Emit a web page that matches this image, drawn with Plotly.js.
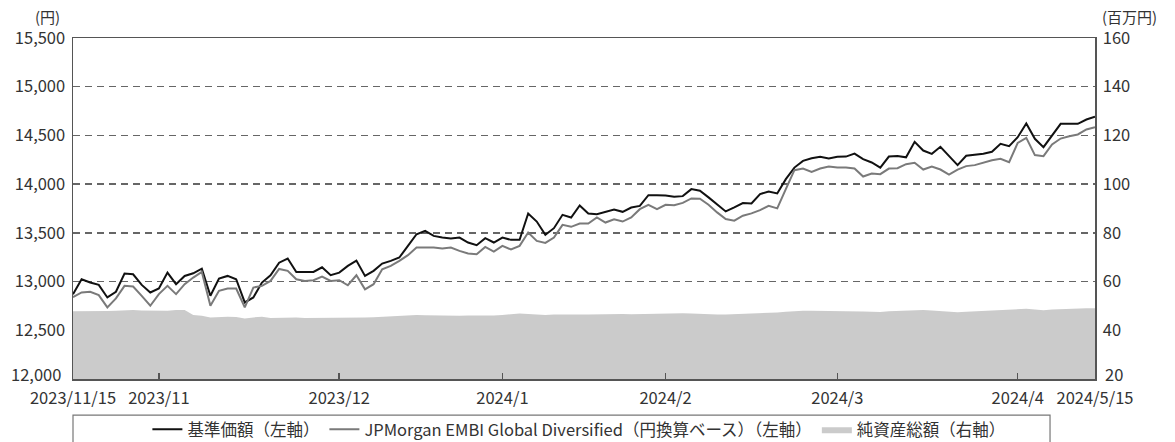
<!DOCTYPE html>
<html>
<head>
<meta charset="utf-8">
<script src="https://cdn.plot.ly/plotly-3.0.1.min.js"></script>
<style>
html,body{margin:0;padding:0;background:#fff;}
#chart{width:1175px;height:442px;}
</style>
</head>
<body>
<div id="chart"></div>
<script>
// Tick labels (positions are business-day indices of the series)
const tickIndex = [0, 10, 31, 50, 69, 89, 110, 119];
const tickLabels = ["2023/11/15", "2023/11", "2023/12", "2024/1", "2024/2", "2024/3", "2024/4", "2024/5/15"];

const seriesNames = ["基準価額（左軸）", "JPMorgan EMBI Global Diversified（円換算ベース）（左軸）", "純資産総額（右軸）"];

// 基準価額 (円)
const navValues = [
12870,13024,12990,12966,12837,12895,13082,13075,12966,12888,
12929,13092,12973,13058,13085,13133,12854,13031,13058,13024,
12786,12837,12990,13065,13194,13236,13099,13099,13099,13147,
13065,13092,13161,13216,13058,13110,13185,13212,13247,13366,
13486,13521,13469,13452,13442,13452,13401,13373,13445,13401,
13452,13428,13428,13699,13616,13479,13548,13685,13658,13781,
13699,13692,13719,13740,13716,13760,13777,13887,13887,13884,
13870,13877,13949,13932,13864,13789,13720,13761,13806,13802,
13898,13925,13905,14051,14170,14239,14266,14280,14263,14280,
14283,14314,14256,14222,14170,14283,14290,14275,14434,14345,
14311,14383,14287,14195,14291,14304,14311,14332,14414,14390,
14482,14622,14465,14380,14499,14619,14619,14619,14663,14691
];

// JPMorgan EMBI Global Diversified (円換算ベース)
const benchValues = [
12840,12888,12895,12861,12735,12827,12956,12949,12854,12752,
12871,12956,12871,12973,13041,13099,12752,12905,12929,12929,
12735,12939,12956,13007,13130,13110,13024,13007,13014,13051,
13007,13014,12962,13065,12921,12973,13127,13161,13212,13271,
13349,13349,13349,13339,13349,13315,13288,13281,13356,13308,
13366,13329,13366,13503,13418,13397,13452,13582,13562,13596,
13596,13658,13606,13640,13616,13658,13743,13788,13743,13788,
13784,13808,13853,13850,13789,13710,13642,13625,13676,13700,
13734,13778,13751,13949,14143,14160,14126,14160,14181,14171,
14171,14160,14078,14109,14102,14160,14164,14205,14219,14150,
14181,14150,14099,14150,14185,14195,14219,14246,14260,14226,
14424,14475,14298,14287,14407,14468,14492,14510,14561,14585
];

// 純資産総額 (百万円)
const assetValues = [
47.8,47.9,48.0,48.1,47.9,48.0,48.3,48.3,48.1,48.0,
47.8,48.0,48.3,48.3,46.3,46.0,45.2,45.5,45.6,45.5,
44.8,45.3,45.6,45.0,45.1,45.3,45.2,45.0,45.0,45.0,
44.9,44.9,45.0,45.2,45.2,45.4,45.6,45.9,46.1,46.3,
46.3,46.2,46.1,46.0,46.0,46.0,46.1,46.0,46.1,46.1,
46.3,46.6,46.9,46.7,46.4,46.3,46.5,46.6,46.6,46.5,
46.5,46.6,46.6,46.6,46.7,46.6,46.7,46.8,46.9,47.0,
47.0,47.0,46.9,46.7,46.6,46.5,46.5,46.6,46.7,46.8,
47.0,47.1,47.3,47.6,47.9,48.0,48.0,48.0,48.0,48.0,
47.9,47.8,47.7,47.6,47.5,47.8,48.0,48.1,48.2,48.3,
48.1,47.8,47.5,47.4,47.6,47.8,48.0,48.1,48.3,48.5,
48.7,48.8,48.5,48.2,48.5,48.7,48.8,48.9,49.0,49.0
];

const leftTicks = [12000,12500,13000,13500,14000,14500,15000,15500];
const leftTickText = ["12,000","12,500","13,000","13,500","14,000","14,500","15,000","15,500"];
const rightTicks = [20,40,60,80,100,120,140,160];

const FONT = '"Noto Sans CJK JP","Noto Sans",sans-serif';
const AX = '#555555';
const TXT = '#333333';
const TICKSIZE = 16.5;

const traces = [
  {y: navValues, type: 'scatter', mode: 'lines', name: seriesNames[0],
   line: {color: '#111111', width: 2}, yaxis: 'y'},
  {y: benchValues, type: 'scatter', mode: 'lines', name: seriesNames[1],
   line: {color: '#7a7a7a', width: 2}, yaxis: 'y'},
  {y: assetValues, type: 'scatter', mode: 'lines', name: seriesNames[2],
   fill: 'tozeroy', fillcolor: '#cbcbcb', line: {color: '#cbcbcb', width: 0}, yaxis: 'y2'}
];

// the lowest tick labels of both value axes sit slightly above the bottom axis line
const bottomLabels = [
  {text: leftTickText[0], xref: 'paper', yref: 'y', x: -0.0098, y: leftTicks[0], xanchor: 'right', yanchor: 'middle',
   yshift: 5, showarrow: false, font: {size: TICKSIZE, color: TXT}},
  {text: String(rightTicks[0]), xref: 'paper', yref: 'y2', x: 1.0078, y: rightTicks[0], xanchor: 'left', yanchor: 'middle',
   yshift: 5, showarrow: false, font: {size: TICKSIZE, color: TXT}}
];

const layout = {
  width: 1175, height: 442,
  margin: {l: 73, r: 80, t: 38, b: 63, autoexpand: false},
  paper_bgcolor: '#ffffff', plot_bgcolor: '#ffffff',
  font: {family: FONT, size: 16, color: TXT},
  showlegend: true,
  hovermode: false,
  xaxis: {
    range: [0, 119], tickvals: tickIndex, ticktext: tickLabels, automargin: false,
    showgrid: false, zeroline: false,
    showline: true, linecolor: AX, linewidth: 1.5, mirror: true,
    ticks: 'inside', ticklen: 6, tickwidth: 1.5, tickcolor: AX,
    ticklabelstandoff: 4,
    tickfont: {size: TICKSIZE, color: TXT}
  },
  yaxis: {
    range: [12000, 15500], tickvals: leftTicks.slice(1), ticktext: leftTickText.slice(1), automargin: false,
    showgrid: true, gridcolor: '#666666', gridwidth: 1.3, griddash: '7px,5px',
    zeroline: false, showline: true, linecolor: AX, linewidth: 1.5,
    ticks: '', ticklabelstandoff: 3, tickfont: {size: TICKSIZE, color: TXT}
  },
  yaxis2: {
    range: [20, 160], tickvals: rightTicks.slice(1), overlaying: 'y', side: 'right', automargin: false,
    showgrid: false, zeroline: false, showline: true, linecolor: AX, linewidth: 1.5,
    ticks: '', ticklabelstandoff: 3, tickfont: {size: TICKSIZE, color: TXT}
  },
  legend: {
    orientation: 'h', x: 0.495, xanchor: 'center', y: -0.097, yanchor: 'top',
    font: {size: 16.5, color: TXT}, borderwidth: 0, bgcolor: 'rgba(0,0,0,0)',
    traceorder: 'normal'
  },
  shapes: [
    {type: 'rect', xref: 'paper', yref: 'paper', x0: 0, x1: 0.956, y0: -0.106, y1: -0.3,
     line: {color: '#777777', width: 1.2}, fillcolor: 'rgba(0,0,0,0)'}
  ],
  annotations: [
    {text: '(円)', xref: 'paper', yref: 'paper', x: -0.011, y: 1.062, xanchor: 'right', yanchor: 'middle',
     showarrow: false, font: {size: 15, color: TXT}},
    {text: '(百万円)', xref: 'paper', yref: 'paper', x: 1.005, y: 1.062, xanchor: 'left', yanchor: 'middle',
     showarrow: false, font: {size: 15, color: TXT}}
  ].concat(bottomLabels)
};

Plotly.newPlot('chart', traces, layout, {displayModeBar: false, staticPlot: true});
</script>
</body>
</html>
